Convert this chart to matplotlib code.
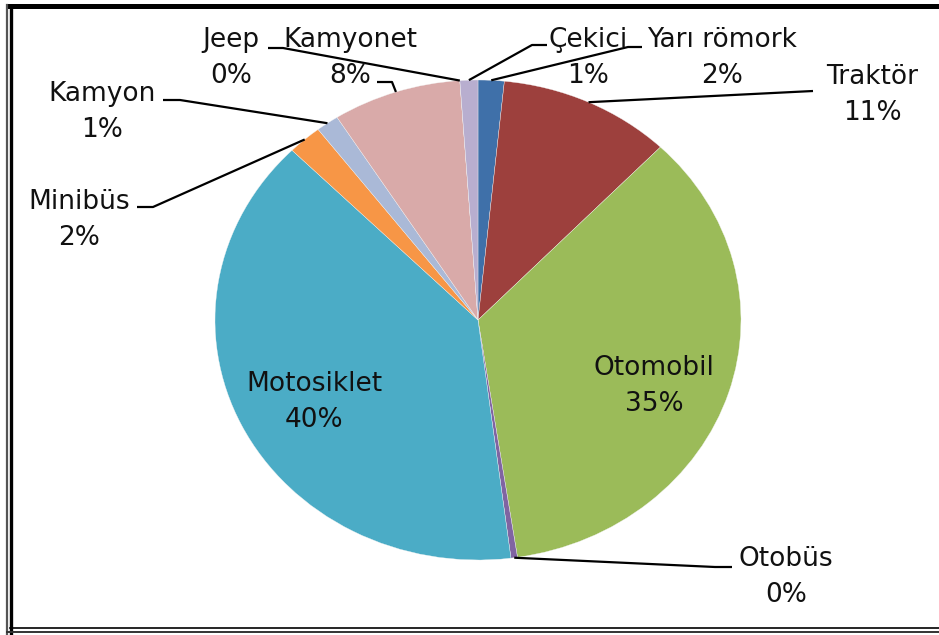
import matplotlib.pyplot as plt
from matplotlib.lines import Line2D
from matplotlib.patches import Rectangle
import numpy as np

# vehicle types, clockwise from 12 o'clock (Excel order)
categories = ['Yarı römork', 'Traktör', 'Otomobil', 'Otobüs', 'Motosiklet',
              'Minibüs', 'Kamyon', 'Kamyonet', 'Jeep', 'Çekici']
shares = [1.6, 10.6, 35.4, 0.4, 39.5, 2.1, 1.4, 7.9, 0.0, 1.1]
colors = ['#3F70A9', '#9D403D', '#9BBB59', '#8064A2', '#4BACC6',
          '#F79646', '#AAB9D7', '#D9AAA9', '#C3D69B', '#B8AECF']

W, H = 939, 635
CX, CY, RX, RY = 478, 320, 263, 240   # pie centre / radii in pixels


def pix(px, py):
    # pixel position (from top-left) -> data coords of the pie axes
    return (px - CX) / RX, (CY - py) / RY


# label block centres and leader elbows, in pixels
label_pos = {
    'Yarı römork': (722, 58), 'Traktör': (872, 95), 'Otomobil': (654, 386),
    'Otobüs': (786, 577), 'Motosiklet': (314, 402), 'Minibüs': (79, 220),
    'Kamyon': (102, 112), 'Kamyonet': (350, 58), 'Jeep': (231, 58),
    'Çekici': (588, 58),
}
leaders = {
    'Yarı römork': [(642, 47), (628, 47)], 'Traktör': [(813, 91)],
    'Otobüs': [(732, 567), (715, 567)], 'Minibüs': [(137, 207), (153, 207)],
    'Kamyon': [(163, 100), (180, 100)], 'Kamyonet': [(377, 82), (392, 82)],
    'Jeep': [(268, 48), (283, 48)], 'Çekici': [(547, 45), (532, 45)],
}

fig = plt.figure(figsize=(W / 100, H / 100), dpi=100)
ax = fig.add_axes([0, 0, 1, 1])
wedges, _ = ax.pie(shares, colors=colors, startangle=90, counterclock=False,
                   radius=1, wedgeprops=dict(edgecolor='#f4f4f4', linewidth=0.25))
ax.set_aspect('auto')
ax.set_xlim(-CX / RX, (W - CX) / RX)
ax.set_ylim(-(H - CY) / RY, CY / RY)
ax.axis('off')

total = sum(shares)
for w, name, v in zip(wedges, categories, shares):
    lx, ly = pix(*label_pos[name])
    ax.text(lx, ly, f'{name}\n{round(v / total * 100):.0f}%', ha='center', va='center',
            fontsize=19, linespacing=1.5, color='#111111', family='DejaVu Sans')
    if name in leaders:
        mid = np.deg2rad((w.theta1 + w.theta2) / 2)
        pts = [pix(*p) for p in leaders[name]] + [(np.cos(mid), np.sin(mid))]
        xs, ys = zip(*pts)
        ax.plot(xs, ys, color='black', lw=1.6, solid_capstyle='butt')


# picture frame
def fpix(px, py):
    return px / W, 1 - py / H


fig.add_artist(Rectangle(fpix(8, 9), (W - 8) / W, 5 / H, transform=fig.transFigure,
                         color='black', lw=0))
for (x0, y0), (x1, y1), c, lw in [((7, 5), (7, H), '#555555', 1.6),
                                  ((10.5, 9), (10.5, H), 'black', 2.4),
                                  ((10, 628), (W, 628), 'black', 1.2),
                                  ((7, 632), (W, 632), '#333333', 1.4)]:
    a, b = fpix(x0, y0)
    c2, d = fpix(x1, y1)
    fig.add_artist(Line2D([a, c2], [b, d], color=c, lw=lw, transform=fig.transFigure))

fig.savefig('out.png', dpi=100)
